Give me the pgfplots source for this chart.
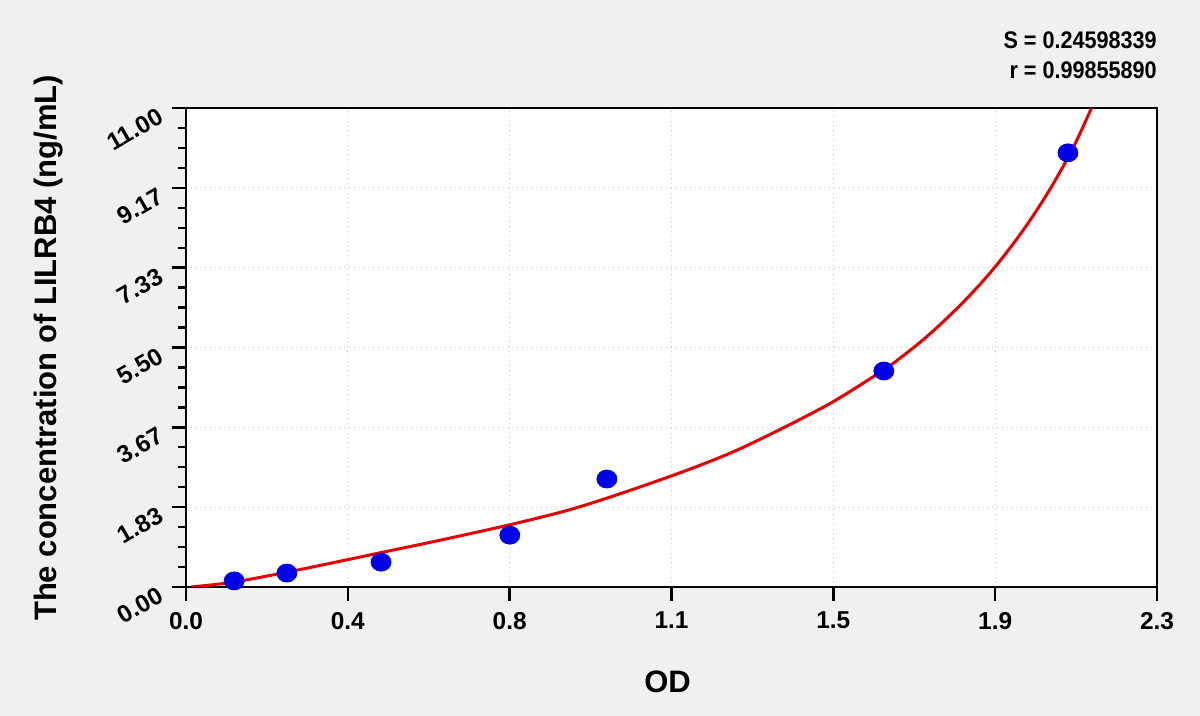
\documentclass[border=0pt]{standalone}
\usepackage{pgfplots}
\pgfplotsset{compat=1.18}
\usepackage{fontspec}
\setmainfont{Liberation Sans}
\definecolor{bgc}{RGB}{240,240,240}
\definecolor{ptblue}{RGB}{0,0,230}
\definecolor{fitred}{RGB}{230,0,0}
\begin{document}
\begin{tikzpicture}
% 1 px of the reference = 0.5pt
\useasboundingbox[fill=bgc] (-93pt,-64.5pt) rectangle (507pt,293.5pt);
\begin{axis}[
    at={(0,0)}, anchor=south west,
    scale only axis,
    width=485.5pt, height=239.5pt,
    xmin=0, xmax=2.3, ymin=0, ymax=11,
    axis background/.style={fill=white},
    axis line style={line width=1.3pt},
    xtick={0,0.383333,0.766667,1.15,1.533333,1.916667,2.3},
    xticklabels={0.0,0.4,0.8,1.1,1.5,1.9,2.3},
    ytick={0,1.833333,3.666667,5.5,7.333333,9.166667,11},
    yticklabels={0.00,1.83,3.67,5.50,7.33,9.17,11.00},
    minor tick num=3,
    tick align=outside,
    xtick pos=bottom, ytick pos=left,
    major tick length=7pt, minor tick length=4pt,
    every tick/.style={black, line width=1.2pt},
    grid=major,
    major grid style={gray!45, dotted, line width=0.5pt},
    tick label style={font=\bfseries\fontsize{12.2}{14}\selectfont},
    /pgf/number format/assume math mode=true,
    xticklabel style={yshift=-2pt},
    yticklabel style={rotate=30, anchor=east, xshift=-3pt},
    xlabel={OD},
    ylabel={The concentration of LILRB4 (ng/mL)},
    label style={font=\bfseries\fontsize{15.5}{18}\selectfont},
    xlabel style={at={(rel axis cs:0.496,-0.198)}, anchor=center},
    ylabel style={at={(rel axis cs:-0.142,0.499)}, anchor=center, rotate=0},
  ]
  % fitted curve
  \addplot[fitred, line width=1.5pt, smooth, mark=none] coordinates {
    (0.012,0.00) (0.111,0.11) (0.239,0.34) (0.379,0.62) (0.467,0.80)
    (0.600,1.07) (0.763,1.42) (0.900,1.75) (1.000,2.05) (1.100,2.38)
    (1.200,2.73) (1.300,3.12) (1.414,3.65) (1.532,4.25) (1.652,4.98)
    (1.700,5.32) (1.750,5.71) (1.800,6.15) (1.850,6.63) (1.900,7.16)
    (1.950,7.76) (2.000,8.43) (2.050,9.19) (2.100,10.06) (2.145,11.00)
  };
  % standards
  \addplot[only marks, mark=*, mark size=5pt, ptblue,
    mark options={fill=ptblue, draw=ptblue, yscale=0.9}] coordinates {
    (0.114,0.14) (0.239,0.32) (0.462,0.57) (0.767,1.19)
    (0.997,2.48) (1.653,4.96) (2.089,9.97)
  };
\end{axis}
\node[anchor=east, inner sep=0pt, xscale=0.9, font=\bfseries\fontsize{12}{14}\selectfont]
  at (485.5pt,273.5pt) {S = 0.24598339};
\node[anchor=east, inner sep=0pt, xscale=0.9, font=\bfseries\fontsize{12}{14}\selectfont]
  at (485.5pt,258.5pt) {r = 0.99855890};
\end{tikzpicture}
\end{document}
